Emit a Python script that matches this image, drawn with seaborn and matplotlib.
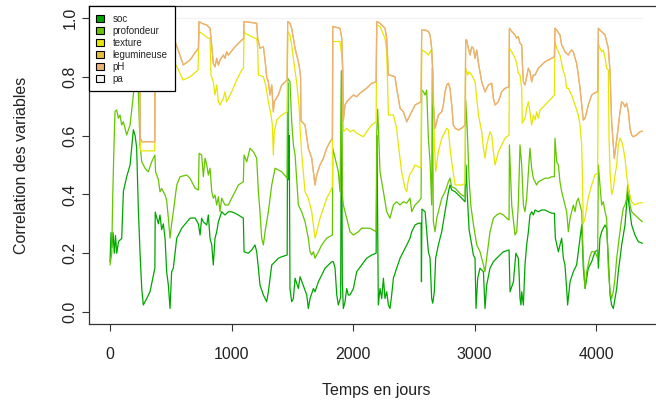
import numpy as np
import pandas as pd
import seaborn as sns
import matplotlib
matplotlib.use('Agg')
import matplotlib.pyplot as plt
from matplotlib.patches import Patch

# valeurs (jours, correlation cumulee)
soc_jours = [0, 8, 15, 25, 35, 45, 55, 70, 96, 110, 137, 165, 192, 206, 219, 233, 247, 261, 274, 302,
             329, 357, 369, 372, 398, 411, 425, 439, 453, 466, 480, 494, 507, 521, 549, 590, 658, 700,
             727, 741, 754, 768, 796, 809, 823, 837, 850, 864, 878, 892, 919, 946, 974, 1001, 1029,
             1056, 1097, 1103, 1138, 1166, 1193, 1207, 1221, 1234, 1262, 1289, 1303, 1331, 1358, 1385,
             1413, 1458, 1462, 1468, 1475, 1481, 1495, 1509, 1523, 1550, 1564, 1591, 1619, 1632, 1646,
             1674, 1687, 1715, 1742, 1770, 1797, 1824, 1838, 1852, 1866, 1879, 1898, 1905, 1912, 1920,
             1934, 1948, 1961, 1975, 2003, 2030, 2071, 2112, 2154, 2190, 2197, 2208, 2222, 2236, 2250,
             2263, 2277, 2291, 2304, 2318, 2332, 2359, 2387, 2414, 2442, 2469, 2483, 2510, 2538, 2560,
             2563, 2567, 2593, 2620, 2634, 2647, 2656, 2669, 2680, 2702, 2730, 2757, 2785, 2798, 2812,
             2840, 2867, 2894, 2922, 2930, 2940, 2955, 2977, 2990, 3004, 3012, 3026, 3045, 3073, 3086,
             3100, 3127, 3155, 3182, 3210, 3237, 3284, 3292, 3320, 3340, 3360, 3366, 3374, 3382, 3388,
             3402, 3415, 3429, 3443, 3456, 3470, 3484, 3498, 3525, 3552, 3580, 3607, 3635, 3657, 3665,
             3690, 3703, 3717, 3731, 3744, 3758, 3766, 3786, 3813, 3840, 3868, 3882, 3895, 3910, 3936,
             3964, 3991, 4013, 4019, 4032, 4046, 4060, 4074, 4087, 4101, 4115, 4128, 4142, 4156, 4170,
             4183, 4211, 4238, 4260, 4271, 4293, 4320, 4348, 4381]
soc = [0.17, 0.27, 0.22, 0.27, 0.20, 0.26, 0.20, 0.24, 0.25, 0.41, 0.46, 0.50, 0.62, 0.60, 0.56, 0.35,
       0.20, 0.08, 0.024, 0.046, 0.069, 0.126, 0.149, 0.34, 0.30, 0.33, 0.28, 0.30, 0.25, 0.137, 0.092,
       0.012, 0.137, 0.149, 0.251, 0.285, 0.319, 0.32, 0.30, 0.262, 0.319, 0.307, 0.296, 0.330, 0.251,
       0.228, 0.16, 0.251, 0.273, 0.307, 0.341, 0.330, 0.341, 0.341, 0.336, 0.330, 0.319, 0.205, 0.200,
       0.211, 0.228, 0.205, 0.149, 0.092, 0.058, 0.035, 0.069, 0.160, 0.171, 0.183, 0.188, 0.194, 0.78,
       0.45, 0.60, 0.08, 0.035, 0.046, 0.115, 0.080, 0.12, 0.09, 0.058, 0.012, 0.046, 0.080, 0.069,
       0.103, 0.126, 0.149, 0.160, 0.171, 0.171, 0.149, 0.058, 0.024, 0.05, 0.82, 0.10, 0.012, 0.035,
       0.080, 0.058, 0.058, 0.080, 0.137, 0.160, 0.183, 0.194, 0.200, 0.60, 0.024, 0.080, 0.046, 0.115,
       0.046, 0.069, 0.024, 0.012, 0.058, 0.115, 0.149, 0.183, 0.205, 0.228, 0.251, 0.273, 0.296, 0.302,
       0.302, 0.103, 0.35, 0.341, 0.205, 0.183, 0.046, 0.030, 0.069, 0.183, 0.228, 0.273, 0.341, 0.409,
       0.432, 0.415, 0.409, 0.398, 0.387, 0.375, 0.50, 0.40, 0.28, 0.228, 0.194, 0.183, 0.012, 0.115,
       0.149, 0.137, 0.012, 0.092, 0.149, 0.171, 0.183, 0.194, 0.205, 0.211, 0.069, 0.103, 0.20, 0.183,
       0.137, 0.046, 0.024, 0.069, 0.024, 0.160, 0.228, 0.273, 0.330, 0.341, 0.330, 0.347, 0.341, 0.347,
       0.347, 0.341, 0.336, 0.336, 0.251, 0.205, 0.228, 0.251, 0.183, 0.160, 0.080, 0.024, 0.103, 0.137,
       0.160, 0.251, 0.296, 0.150, 0.08, 0.149, 0.171, 0.205, 0.211, 0.149, 0.251, 0.273, 0.285, 0.296,
       0.285, 0.183, 0.058, 0.024, 0.012, 0.046, 0.080, 0.137, 0.228, 0.296, 0.409, 0.364, 0.296, 0.262,
       0.239, 0.234]

prof_jours = [0, 14, 22, 33, 41, 55, 69, 82, 96, 110, 137, 165, 192, 206, 219, 233, 247, 261, 288, 315,
              343, 369, 375, 398, 411, 425, 453, 466, 480, 494, 507, 521, 549, 576, 631, 658, 700, 728,
              733, 754, 768, 782, 796, 809, 823, 837, 850, 864, 878, 892, 905, 919, 946, 974, 1001, 1029,
              1056, 1097, 1103, 1125, 1152, 1180, 1207, 1221, 1234, 1248, 1262, 1276, 1303, 1331, 1358,
              1413, 1458, 1462, 1481, 1495, 1509, 1523, 1550, 1578, 1605, 1632, 1646, 1660, 1674, 1687,
              1715, 1742, 1783, 1830, 1833, 1866, 1879, 1893, 1905, 1912, 1920, 1948, 1975, 2003, 2044,
              2071, 2140, 2190, 2195, 2203, 2222, 2250, 2277, 2304, 2332, 2359, 2387, 2414, 2442, 2469,
              2483, 2510, 2538, 2560, 2565, 2579, 2593, 2606, 2620, 2634, 2647, 2652, 2661, 2675, 2689,
              2702, 2730, 2757, 2785, 2798, 2812, 2840, 2867, 2894, 2922, 2927, 2940, 2955, 2970, 2990,
              3018, 3045, 3073, 3086, 3100, 3127, 3155, 3182, 3210, 3237, 3265, 3284, 3287, 3306, 3333,
              3347, 3360, 3374, 3388, 3402, 3415, 3429, 3443, 3456, 3470, 3484, 3511, 3525, 3552, 3580,
              3607, 3635, 3657, 3662, 3676, 3690, 3703, 3717, 3744, 3758, 3772, 3786, 3813, 3827, 3840,
              3854, 3868, 3882, 3895, 3909, 3923, 3950, 3964, 3991, 4013, 4019, 4032, 4046, 4060, 4074,
              4087, 4101, 4115, 4128, 4142, 4156, 4170, 4183, 4197, 4211, 4224, 4238, 4252, 4260, 4271,
              4279, 4293, 4320, 4348, 4381]
profondeur = [0.16, 0.20, 0.39, 0.57, 0.682, 0.687, 0.659, 0.670, 0.636, 0.647, 0.602, 0.636, 0.738, 0.80,
              0.78, 0.75, 0.568, 0.511, 0.489, 0.477, 0.511, 0.534, 0.477, 0.45, 0.409, 0.42, 0.398, 0.38,
              0.319, 0.251, 0.30, 0.341, 0.432, 0.46, 0.466, 0.455, 0.421, 0.415, 0.54, 0.534, 0.460, 0.523,
              0.500, 0.466, 0.489, 0.409, 0.387, 0.398, 0.364, 0.392, 0.341, 0.387, 0.364, 0.364, 0.387,
              0.409, 0.432, 0.443, 0.534, 0.511, 0.557, 0.545, 0.523, 0.409, 0.341, 0.251, 0.228, 0.273,
              0.341, 0.432, 0.489, 0.477, 0.455, 0.795, 0.783, 0.647, 0.568, 0.534, 0.364, 0.340, 0.307,
              0.251, 0.205, 0.194, 0.205, 0.183, 0.205, 0.228, 0.251, 0.262, 0.557, 0.500, 0.477, 0.409,
              0.82, 0.40, 0.364, 0.319, 0.273, 0.262, 0.273, 0.285, 0.285, 0.273, 0.61, 0.69, 0.477, 0.409,
              0.341, 0.319, 0.364, 0.375, 0.364, 0.375, 0.370, 0.387, 0.341, 0.364, 0.375, 0.387, 0.755,
              0.749, 0.738, 0.755, 0.591, 0.511, 0.364, 0.83, 0.307, 0.273, 0.319, 0.341, 0.387, 0.409,
              0.443, 0.455, 0.426, 0.421, 0.409, 0.398, 0.392, 0.72, 0.62, 0.45, 0.36, 0.300, 0.228, 0.205,
              0.160, 0.137, 0.183, 0.273, 0.319, 0.330, 0.336, 0.330, 0.319, 0.313, 0.568, 0.364, 0.262,
              0.273, 0.364, 0.568, 0.500, 0.364, 0.341, 0.387, 0.477, 0.557, 0.489, 0.455, 0.432, 0.443,
              0.449, 0.455, 0.455, 0.460, 0.460, 0.591, 0.511, 0.500, 0.443, 0.409, 0.364, 0.341, 0.273,
              0.319, 0.364, 0.341, 0.375, 0.387, 0.364, 0.341, 0.183, 0.080, 0.137, 0.190, 0.205, 0.205,
              0.183, 0.500, 0.432, 0.364, 0.375, 0.341, 0.319, 0.149, 0.069, 0.046, 0.069, 0.115, 0.183,
              0.228, 0.273, 0.319, 0.353, 0.364, 0.387, 0.432, 0.409, 0.364, 0.341, 0.330, 0.319, 0.307]

tex_jours = [0, 150, 245, 250, 262, 368, 371, 450, 535, 551, 601, 660, 724, 733, 754, 809, 823, 831, 850,
             864, 878, 892, 905, 933, 946, 960, 1001, 1042, 1084, 1098, 1103, 1111, 1193, 1207, 1215, 1221,
             1262, 1281, 1303, 1325, 1336, 1344, 1352, 1372, 1413, 1458, 1462, 1481, 1495, 1509, 1536,
             1556, 1564, 1578, 1605, 1632, 1660, 1687, 1701, 1728, 1756, 1783, 1811, 1830, 1833, 1893,
             1907, 1915, 1920, 1948, 1975, 2003, 2030, 2057, 2085, 2112, 2154, 2190, 2195, 2222, 2263,
             2277, 2291, 2332, 2359, 2373, 2400, 2428, 2442, 2455, 2469, 2483, 2510, 2560, 2565, 2593,
             2620, 2642, 2653, 2661, 2669, 2680, 2702, 2730, 2771, 2785, 2798, 2812, 2840, 2894, 2922,
             2927, 2944, 2955, 2977, 3004, 3032, 3059, 3073, 3086, 3100, 3127, 3141, 3155, 3169, 3196,
             3251, 3284, 3287, 3306, 3333, 3347, 3360, 3374, 3388, 3393, 3415, 3429, 3443, 3456, 3470,
             3484, 3498, 3511, 3525, 3539, 3566, 3594, 3621, 3657, 3662, 3676, 3703, 3731, 3744, 3758,
             3772, 3799, 3827, 3854, 3868, 3882, 3895, 3909, 3936, 3964, 3991, 4013, 4019, 4032, 4046,
             4060, 4074, 4087, 4101, 4107, 4115, 4128, 4142, 4156, 4170, 4183, 4197, 4211, 4224, 4238,
             4252, 4271, 4293, 4320, 4348, 4381]
texture = [0.88, 0.86, 0.84, 0.548, 0.548, 0.548, 0.90, 0.87, 0.845, 0.833, 0.789, 0.80, 0.823, 0.954,
           0.948, 0.931, 0.931, 0.806, 0.783, 0.738, 0.772, 0.715, 0.704, 0.727, 0.749, 0.715, 0.749, 0.789,
           0.823, 0.829, 0.954, 0.948, 0.931, 0.931, 0.897, 0.806, 0.800, 0.772, 0.715, 0.670, 0.636, 0.534,
           0.613, 0.653, 0.670, 0.681, 0.954, 0.942, 0.908, 0.863, 0.780, 0.70, 0.625, 0.534, 0.409, 0.387,
           0.341, 0.251, 0.273, 0.319, 0.353, 0.387, 0.409, 0.426, 0.920, 0.920, 0.874, 0.817, 0.613, 0.625,
           0.613, 0.619, 0.608, 0.602, 0.596, 0.613, 0.636, 0.647, 0.976, 0.971, 0.931, 0.885, 0.670, 0.670,
           0.625, 0.568, 0.477, 0.421, 0.409, 0.45, 0.47, 0.477, 0.500, 0.489, 0.891, 0.885, 0.874, 0.891,
           0.851, 0.761, 0.579, 0.477, 0.545, 0.591, 0.625, 0.619, 0.557, 0.511, 0.432, 0.432, 0.437, 0.829,
           0.806, 0.817, 0.806, 0.783, 0.670, 0.613, 0.557, 0.523, 0.568, 0.613, 0.602, 0.545, 0.500, 0.545,
           0.591, 0.602, 0.897, 0.885, 0.863, 0.846, 0.812, 0.806, 0.761, 0.642, 0.659, 0.693, 0.715, 0.681,
           0.636, 0.670, 0.653, 0.681, 0.659, 0.687, 0.698, 0.710, 0.721, 0.738, 0.920, 0.897, 0.874, 0.817,
           0.806, 0.761, 0.761, 0.738, 0.704, 0.670, 0.636, 0.568, 0.300, 0.320, 0.390, 0.432, 0.466, 0.472,
           0.914, 0.897, 0.885, 0.891, 0.863, 0.829, 0.823, 0.591, 0.477, 0.400, 0.420, 0.466, 0.500, 0.568,
           0.591, 0.579, 0.557, 0.523, 0.466, 0.409, 0.375, 0.364, 0.370, 0.372]

leg_jours = [0, 150, 245, 250, 262, 368, 371, 450, 535, 555, 603, 658, 727, 733, 754, 796, 823, 831, 850,
             864, 878, 892, 905, 933, 946, 960, 974, 1029, 1084, 1099, 1103, 1207, 1215, 1234, 1262, 1276,
             1289, 1303, 1317, 1331, 1344, 1352, 1385, 1413, 1458, 1462, 1481, 1495, 1509, 1523, 1536,
             1556, 1568, 1572, 1605, 1632, 1660, 1687, 1701, 1728, 1756, 1783, 1811, 1830, 1833, 1893,
             1907, 1915, 1920, 1934, 1948, 1975, 2003, 2030, 2057, 2112, 2154, 2190, 2195, 2222, 2263,
             2277, 2291, 2304, 2345, 2359, 2387, 2414, 2442, 2456, 2483, 2510, 2538, 2560, 2565, 2593,
             2620, 2634, 2647, 2656, 2661, 2675, 2689, 2702, 2730, 2743, 2757, 2771, 2785, 2798, 2812,
             2826, 2840, 2867, 2894, 2922, 2927, 2935, 2949, 2963, 2977, 2990, 3004, 3018, 3032, 3059,
             3086, 3114, 3141, 3155, 3169, 3196, 3223, 3251, 3284, 3287, 3306, 3333, 3347, 3360, 3374,
             3388, 3393, 3402, 3415, 3429, 3443, 3456, 3470, 3484, 3498, 3511, 3525, 3552, 3580, 3607,
             3635, 3657, 3662, 3676, 3703, 3717, 3731, 3744, 3772, 3786, 3799, 3813, 3827, 3840, 3854,
             3868, 3882, 3895, 3909, 3923, 3936, 3964, 3991, 4013, 4019, 4032, 4060, 4074, 4087, 4101,
             4115, 4128, 4142, 4150, 4161, 4178, 4197, 4211, 4224, 4238, 4252, 4266, 4279, 4293, 4306,
             4334, 4361, 4381]
legumineuse = [0.93, 0.92, 0.90, 0.591, 0.579, 0.579, 0.97, 0.95, 0.92, 0.897, 0.840, 0.857, 0.897, 0.988,
               0.982, 0.976, 0.965, 0.931, 0.846, 0.834, 0.863, 0.840, 0.857, 0.874, 0.863, 0.885, 0.874,
               0.902, 0.925, 0.930, 0.988, 0.982, 0.931, 0.897, 0.902, 0.857, 0.800, 0.783, 0.738, 0.772,
               0.681, 0.715, 0.738, 0.772, 0.789, 0.988, 0.982, 0.965, 0.931, 0.897, 0.874, 0.840, 0.80,
               0.650, 0.636, 0.557, 0.523, 0.432, 0.466, 0.500, 0.523, 0.557, 0.579, 0.591, 0.971, 0.965,
               0.931, 0.829, 0.650, 0.704, 0.715, 0.727, 0.738, 0.732, 0.744, 0.761, 0.778, 0.783, 0.988,
               0.982, 0.965, 0.931, 0.806, 0.806, 0.800, 0.761, 0.693, 0.681, 0.647, 0.659, 0.681, 0.704,
               0.710, 0.715, 0.959, 0.959, 0.954, 0.942, 0.897, 0.817, 0.704, 0.625, 0.647, 0.670, 0.681,
               0.704, 0.749, 0.772, 0.778, 0.761, 0.704, 0.636, 0.625, 0.619, 0.625, 0.636, 0.925, 0.925,
               0.897, 0.874, 0.902, 0.897, 0.863, 0.891, 0.846, 0.783, 0.749, 0.772, 0.778, 0.727, 0.704,
               0.715, 0.749, 0.761, 0.766, 0.965, 0.954, 0.942, 0.931, 0.937, 0.914, 0.908, 0.851, 0.783,
               0.772, 0.800, 0.829, 0.817, 0.783, 0.806, 0.806, 0.817, 0.829, 0.840, 0.851, 0.857, 0.863,
               0.868, 0.965, 0.959, 0.942, 0.908, 0.897, 0.885, 0.874, 0.885, 0.891, 0.885, 0.863, 0.846,
               0.806, 0.761, 0.704, 0.653, 0.659, 0.681, 0.704, 0.738, 0.746, 0.749, 0.965, 0.959, 0.948,
               0.942, 0.920, 0.897, 0.817, 0.647, 0.568, 0.523, 0.557, 0.613, 0.681, 0.715, 0.710, 0.698,
               0.710, 0.681, 0.625, 0.602, 0.596, 0.602, 0.613, 0.615]
ph = legumineuse  # confondu avec legumineuse sur le graphique

pa_jours = [0, 4381]
pa = [1.0, 1.0]

noms = ['soc', 'profondeur', 'texture', 'legumineuse', 'pH', 'pa']
couleurs = ['#00A600', '#63C600', '#E6E600', '#E9BD3A', '#ECB176', '#F2F2F2']  # terrain.colors(6)

series = [(soc_jours, soc), (prof_jours, profondeur), (tex_jours, texture),
          (leg_jours, legumineuse), (leg_jours, ph), (pa_jours, pa)]

sns.set_style('white')
plt.rcParams['font.family'] = ['Liberation Sans', 'DejaVu Sans']

fig = plt.figure(figsize=(6.56, 4.08), dpi=100)
ax = fig.add_axes([0.1352, 0.2064, 0.878, 0.7784])

for (x, y), nom, c in zip(series, noms, couleurs):
    sns.lineplot(x=x, y=y, color=c, linewidth=0.9, estimator=None, sort=False, ax=ax)

ax.set_xlim(-175.6, 4564.6)
ax.set_ylim(-0.04, 1.04)
ax.set_xticks([0, 1000, 2000, 3000, 4000])
ax.set_yticks([0, 0.2, 0.4, 0.6, 0.8, 1.0])
ax.set_yticklabels(['0.0', '0.2', '0.4', '0.6', '0.8', '1.0'], rotation=90, va='center')
ax.tick_params(axis='both', which='major', direction='out', length=5, width=0.8, color='#333333',
               labelsize=11.5, labelcolor='#222222', bottom=True, left=True)
ax.tick_params(axis='x', pad=12)
ax.tick_params(axis='y', pad=3)
for s in ax.spines.values():
    s.set_color('#333333')
    s.set_linewidth(0.9)

ax.set_xlabel('Temps en jours', fontsize=11.5, color='#222222')
ax.set_ylabel('Correlation des variables', fontsize=11.5, color='#222222')
ax.xaxis.set_label_coords(0.5, -0.185)
ax.yaxis.set_label_coords(-0.104, 0.5)

poignees = [Patch(facecolor=c, edgecolor='black', linewidth=0.8) for c in couleurs]
lg = ax.legend(poignees, noms, loc='upper left', bbox_to_anchor=(0, 1), borderaxespad=0,
               fontsize=7, frameon=True, fancybox=False, edgecolor='black', framealpha=1,
               handlelength=0.75, handleheight=0.75, handletextpad=0.9, labelspacing=0.2,
               borderpad=0.8)
lg.get_frame().set_linewidth(0.9)

fig.savefig('out.png', dpi=100)
